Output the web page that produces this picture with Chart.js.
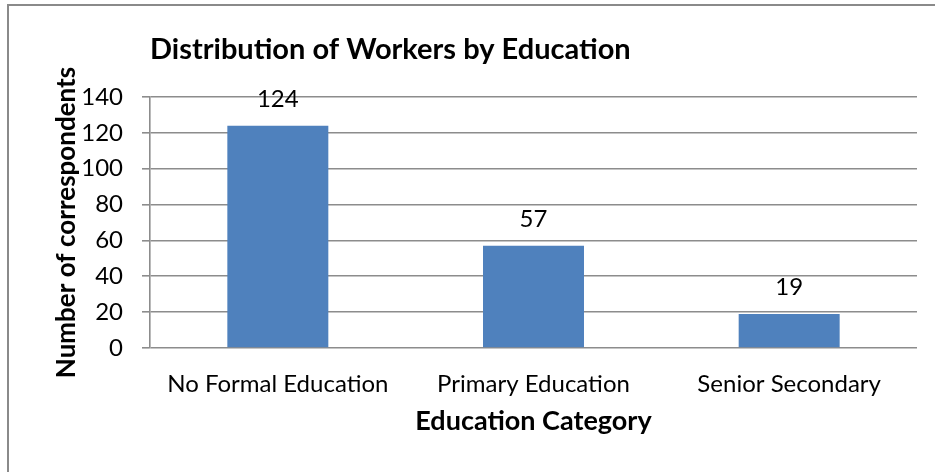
<!DOCTYPE html>
<html>
<head>
<meta charset="utf-8">
<title>Distribution of Workers by Education</title>
<script src="https://cdn.jsdelivr.net/npm/chart.js@4/dist/chart.umd.min.js"></script>
<style>
  html, body { margin: 0; padding: 0; background: #fff; overflow: hidden; }
  #wrap { position: relative; width: 935px; height: 472px; }
  #frame {
    position: absolute; left: 7px; top: 4px; width: 1000px; height: 600px;
    border-left: 2px solid #8a8a8a; border-top: 2px solid #8a8a8a;
    pointer-events: none;
  }
  canvas { position: absolute; left: 0; top: 0; }
</style>
</head>
<body>
<div id="wrap">
  <canvas id="chart" width="935" height="472"></canvas>
  <div id="frame"></div>
</div>
<script>
// Survey data
const categories = ["No Formal Education", "Primary Education", "Senior Secondary"];
const respondents = [124, 57, 19];
const yTicks = [0, 20, 40, 60, 80, 100, 120, 140];

const chartTitle = "Distribution of Workers by Education";
const xTitle = "Education Category";
const yTitle = "Number of correspondents";

const FONT = "Lato, 'Open Sans', sans-serif";
const GRID = "#8c8c8c";
const BAR = "#4f81bd";

// ---- plugins ----

// title sits flush with the plot's left edge
const titlePlugin = {
  id: "leftTitle",
  afterDraw(chart) {
    const { ctx, chartArea } = chart;
    ctx.save();
    ctx.font = `bold 29px ${FONT}`;
    ctx.fillStyle = "#000";
    ctx.textAlign = "left";
    ctx.textBaseline = "alphabetic";
    ctx.fillText(chartTitle, chartArea.left, 59);
    ctx.restore();
  }
};

// value labels above each bar
const valueLabels = {
  id: "valueLabels",
  afterDatasetsDraw(chart) {
    const { ctx } = chart;
    const meta = chart.getDatasetMeta(0);
    ctx.save();
    ctx.font = `24px ${FONT}`;
    ctx.fillStyle = "#000";
    ctx.textAlign = "center";
    ctx.textBaseline = "alphabetic";
    meta.data.forEach((bar, i) => {
      ctx.fillText(String(respondents[i]), bar.x, bar.y - 19);
    });
    ctx.restore();
  }
};

new Chart(document.getElementById("chart"), {
  type: "bar",
  data: {
    labels: categories,
    datasets: [{
      data: respondents,
      backgroundColor: BAR,
      borderWidth: 0,
      barPercentage: 0.395,
      categoryPercentage: 1.0,
    }],
  },
  options: {
    responsive: false,
    animation: false,
    events: [],
    layout: { padding: { left: 0, top: 97, right: 18, bottom: 0 } },
    plugins: {
      legend: { display: false },
      title: { display: false },
      tooltip: { enabled: false },
    },
    scales: {
      x: {
        grid: { display: false, drawTicks: false },
        border: { display: false },
        ticks: {
          color: "#000",
          font: { family: FONT, size: 24 },
          padding: 22,
          maxRotation: 0,
        },
        title: {
          display: true,
          text: xTitle,
          color: "#000",
          font: { family: FONT, size: 27, weight: "bold" },
          padding: { top: 0, bottom: 35 },
        },
        afterFit(scale) { scale.height = 472 - 348; },
      },
      y: {
        min: 0,
        max: 140,
        afterBuildTicks(scale) { scale.ticks = yTicks.map(v => ({ value: v })); },
        grid: { color: GRID, lineWidth: 1.6, tickLength: 8 },
        border: { display: true, color: GRID, width: 1.6 },
        ticks: {
          color: "#000",
          font: { family: FONT, size: 24 },
          padding: 19,
        },
        title: {
          display: true,
          text: yTitle,
          color: "#000",
          font: { family: FONT, size: 26, weight: "bold" },
          padding: { top: 51, bottom: 0 },
        },
        afterFit(scale) { scale.width = 150; },
      },
    },
  },
  plugins: [titlePlugin, valueLabels],
});
</script>
</body>
</html>
